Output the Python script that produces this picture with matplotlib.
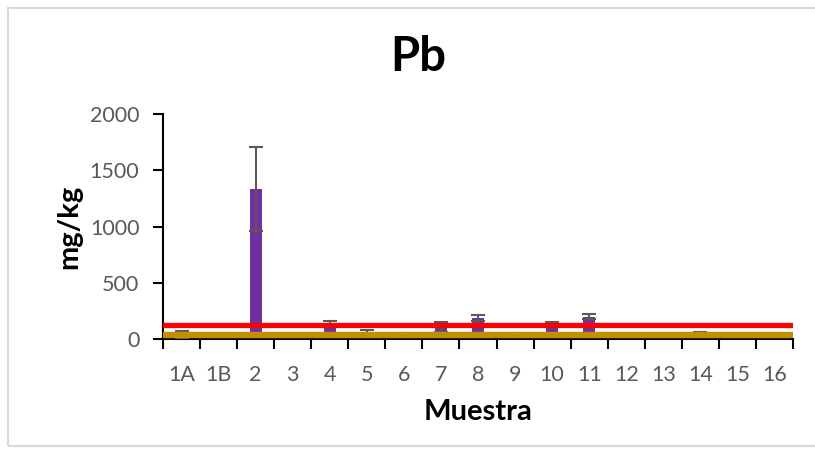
import matplotlib
matplotlib.use("Agg")
import matplotlib.pyplot as plt
from matplotlib.patches import Rectangle
import numpy as np

plt.rcParams['font.family'] = ['Lato', 'DejaVu Sans']

categories = ['1A', '1B', '2', '3', '4', '5', '6', '7', '8', '9', '10',
              '11', '12', '13', '14', '15', '16']
values = [40, 20, 1333, 20, 145, 60, 40, 110, 185, 45, 140, 200, 20, 20, 45, 20, 20]
errors = [35, 5, 375, 5, 17, 20, 10, 45, 28, 8, 14, 22, 5, 5, 15, 5, 5]
limit_red = 125
limit_gold = 35
y_ticks = [0, 500, 1000, 1500, 2000]

fig = plt.figure(figsize=(8.15, 4.53), dpi=100)
ax = fig.add_axes([163/815, 1-339/453, (793-163)/815, (339-114)/453])

x = np.arange(len(categories))
ax.bar(x, values, width=0.32, color='#7030A0', zorder=2)
ax.errorbar(x, values, yerr=errors, fmt='none', ecolor='#595959',
            elinewidth=1.5, capsize=5, capthick=1.5, zorder=3)
ax.axhline(limit_red, color='#FF0000', lw=3.8, zorder=4)
ax.axhline(limit_gold, color='#BF9000', lw=4.6, zorder=4)

ax.set_xlim(-0.5, len(categories) - 0.5)
ax.set_ylim(0, 2000)
ax.set_yticks(y_ticks)
ax.set_xticks(x)
ax.set_xticklabels(categories)
ax.set_xticks(np.arange(-0.5, len(categories)), minor=True)
ax.tick_params(axis='x', which='major', length=0, pad=19, labelsize=15.5, labelcolor='#595959')
ax.tick_params(axis='x', which='minor', length=7, width=1.5, direction='out', color='black')
ax.tick_params(axis='y', length=7, width=1.5, direction='out', pad=10, labelsize=15.5, labelcolor='#595959')

for s in ['top', 'right']:
    ax.spines[s].set_visible(False)
for s in ['left', 'bottom']:
    ax.spines[s].set_linewidth(1.5)
    ax.spines[s].set_color('black')

ax.set_ylabel('mg/kg', fontsize=21, fontweight='bold')
ax.yaxis.set_label_coords((82 - 163) / 630, 0.5)
ax.set_xlabel('Muestra', fontsize=21, fontweight='bold', labelpad=10)
fig.text(418/815, 1-57/453, 'Pb', fontsize=34, fontweight='bold', ha='center', va='center')

fig.patches.append(Rectangle((8/815, 1-446/453), 1.0, (446-8)/453, transform=fig.transFigure,
                             fill=False, edgecolor='#D9D9D9', lw=1.5))

fig.savefig('out.png', dpi=100)
